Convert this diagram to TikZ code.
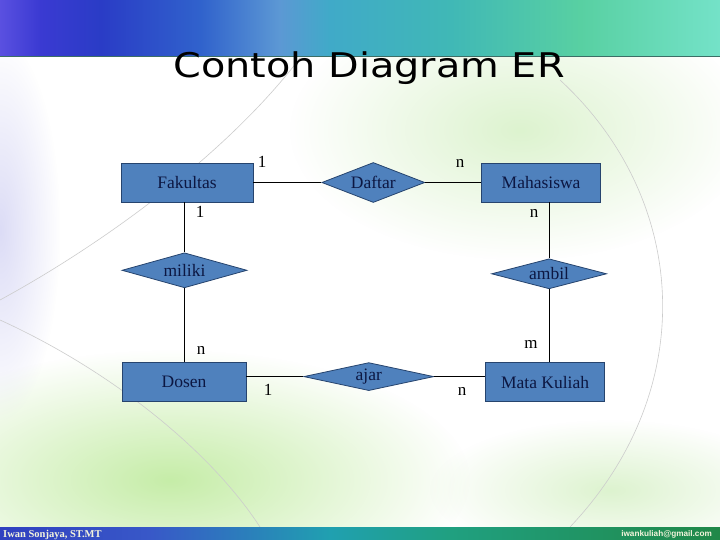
\documentclass[tikz,border=0pt]{standalone}
\usepackage{fontspec}
\setmainfont{Liberation Serif}
\newfontfamily\titlefont[FakeStretch=1.17]{DejaVu Sans}
\newfontfamily\mailfont{Liberation Sans}
\usepackage{tikz}
\usetikzlibrary{positioning, shapes.geometric, fadings}
\definecolor{boxfill}{HTML}{4F81BD}
\definecolor{boxline}{HTML}{26446E}
\definecolor{inknavy}{HTML}{0C1742}
\definecolor{footink}{HTML}{F4F4DC}
\definecolor{headedge}{HTML}{3C6E66}
\definecolor{glowgreen}{HTML}{C6EDA8}
\definecolor{glowpale}{HTML}{DDF3CF}
\definecolor{glowlilac}{HTML}{DCDCF6}
\definecolor{headA}{HTML}{5A50E0}
\definecolor{headB}{HTML}{3A3AD2}
\definecolor{headC}{HTML}{2A3CC6}
\definecolor{headD}{HTML}{3062CC}
\definecolor{headE}{HTML}{5C98D4}
\definecolor{headF}{HTML}{40AAC8}
\definecolor{headG}{HTML}{40B8B6}
\definecolor{headH}{HTML}{58D0A2}
\definecolor{headI}{HTML}{74E2C8}
\definecolor{footA}{HTML}{3040C0}
\definecolor{footB}{HTML}{3858C8}
\definecolor{footC}{HTML}{20A0B0}
\definecolor{footD}{HTML}{20A080}
\definecolor{footE}{HTML}{208848}
\pgfdeclarehorizontalshading{headshade}{100bp}{color(0bp)=(headA); color(25bp)=(headA);
  color(27.8bp)=(headB); color(32bp)=(headC); color(38.9bp)=(headD);
  color(44.4bp)=(headE); color(47.9bp)=(headF); color(56.3bp)=(headG);
  color(65.3bp)=(headH); color(75bp)=(headI); color(100bp)=(headI)}
\pgfdeclarehorizontalshading{footshade}{100bp}{color(0bp)=(footA); color(25bp)=(footA);
  color(35.4bp)=(footB); color(47.9bp)=(footC); color(56.3bp)=(footD);
  color(75bp)=(footE); color(100bp)=(footE)}
\tikzfading[name=softglow, inner color=transparent!0, outer color=transparent!100]
\newcommand{\entfont}{\fontsize{17.5}{20}\selectfont}
\newcommand{\cardfont}{\fontsize{17}{20}\selectfont}

\begin{document}
\begin{tikzpicture}[
  x=1pt, y=-1pt,
  ent/.style={
    rectangle, draw=boxline, fill=boxfill, line width=0.8pt,
    minimum height=39pt, inner sep=0pt, text=inknavy, font=\entfont
  },
  rel/.style={
    diamond, aspect=3, draw=boxline, fill=boxfill, line width=0.8pt,
    inner sep=0pt, text=inknavy, font=\entfont
  },
  card/.style={anchor=base, inner sep=0pt, text=black, font=\cardfont},
  link/.style={black, line width=0.9pt},
  swoosh/.style={gray!40, line width=0.6pt},
]
  % Page and soft background
  \useasboundingbox (0,0) rectangle (720,540);
  \fill[white] (0,0) rectangle (720,540);
  \fill[glowgreen, path fading=softglow] (170,480) ellipse [x radius=300pt, y radius=130pt];
  \fill[glowpale, path fading=softglow] (520,130) ellipse [x radius=230pt, y radius=130pt];
  \fill[glowpale, path fading=softglow] (610,490) ellipse [x radius=180pt, y radius=70pt];
  \fill[glowlilac, path fading=softglow] (0,230) ellipse [x radius=60pt, y radius=190pt];
  \draw[swoosh] (560,80) .. controls (690,200) and (700,390) .. (570,527);
  \draw[swoosh] (0,320) .. controls (110,370) and (210,450) .. (260,527);
  \draw[swoosh] (300,58) .. controls (230,150) and (110,240) .. (0,300);

  % Header and footer bands
  \shade[shading=headshade] (0,0) rectangle (720,57);
  \draw[headedge, line width=1pt] (0,57) -- (720,57);
  \shade[shading=footshade] (0,527) rectangle (720,540);

  % Title
  \node[anchor=base, font=\titlefont\fontsize{34}{40}\selectfont] (title) at (369,78) {Contoh Diagram ER};

  % Entities and relationships
  \node[ent, minimum width=132pt] (fak) at (187,182.5) {Fakultas};
  \node[rel, minimum width=103pt, minimum height=40pt, right=68pt of fak] (daftar) {Daftar};
  \node[ent, minimum width=119pt, right=56pt of daftar] (mhs) {Mahasiswa};
  \node[rel, minimum width=125pt, minimum height=35pt, below=50pt of fak, xshift=-2.5pt] (miliki) {miliki};
  \node[rel, minimum width=115pt, minimum height=30pt, below=56pt of mhs, xshift=8pt] (ambil) {ambil};
  \node[ent, minimum width=124pt, below=74pt of miliki, xshift=-0.5pt] (dosen) {Dosen};
  \node[rel, minimum width=130pt, minimum height=28pt, right=57pt of dosen, yshift=5.5pt] (ajar) {ajar};
  \node[ent, minimum width=119pt, right=51pt of ajar, yshift=-5.5pt] (mk) {Mata Kuliah};

  % Connectors
  \draw[link] (fak) -- (daftar);
  \draw[link] (daftar) -- (mhs);
  \draw[link] (miliki.north |- fak.south) -- (miliki.north);
  \draw[link] (miliki.south) -- (miliki.south |- dosen.north);
  \draw[link] (ambil.north |- mhs.south) -- (ambil.north);
  \draw[link] (ambil.south) -- (ambil.south |- mk.north);
  \draw[link] (ajar.west -| dosen.east) -- (ajar.west);
  \draw[link] (ajar.east) -- (ajar.east -| mk.west);

  % Cardinalities
  \node[card] (cFakDaftar)  at (262,168) {1};
  \node[card] (cMhsDaftar)  at (460,168) {n};
  \node[card] (cFakMiliki)  at (200,218) {1};
  \node[card] (cMhsAmbil)   at (534,218) {n};
  \node[card] (cDosMiliki)  at (201,354) {n};
  \node[card] (cMkAmbil)    at (531,348) {m};
  \node[card] (cDosAjar)    at (268,395) {1};
  \node[card] (cMkAjar)     at (462,395) {n};

  % Footer texts
  \node[anchor=base west, inner sep=0pt, text=footink,
        font=\bfseries\fontsize{10.5}{12}\selectfont] (author) at (3,537) {Iwan Sonjaya, ST.MT};
  \node[anchor=base east, inner sep=0pt, text=footink,
        font=\mailfont\bfseries\fontsize{8.2}{10}\selectfont] (mail) at (712,536) {iwankuliah@gmail.com};
\end{tikzpicture}
\end{document}
